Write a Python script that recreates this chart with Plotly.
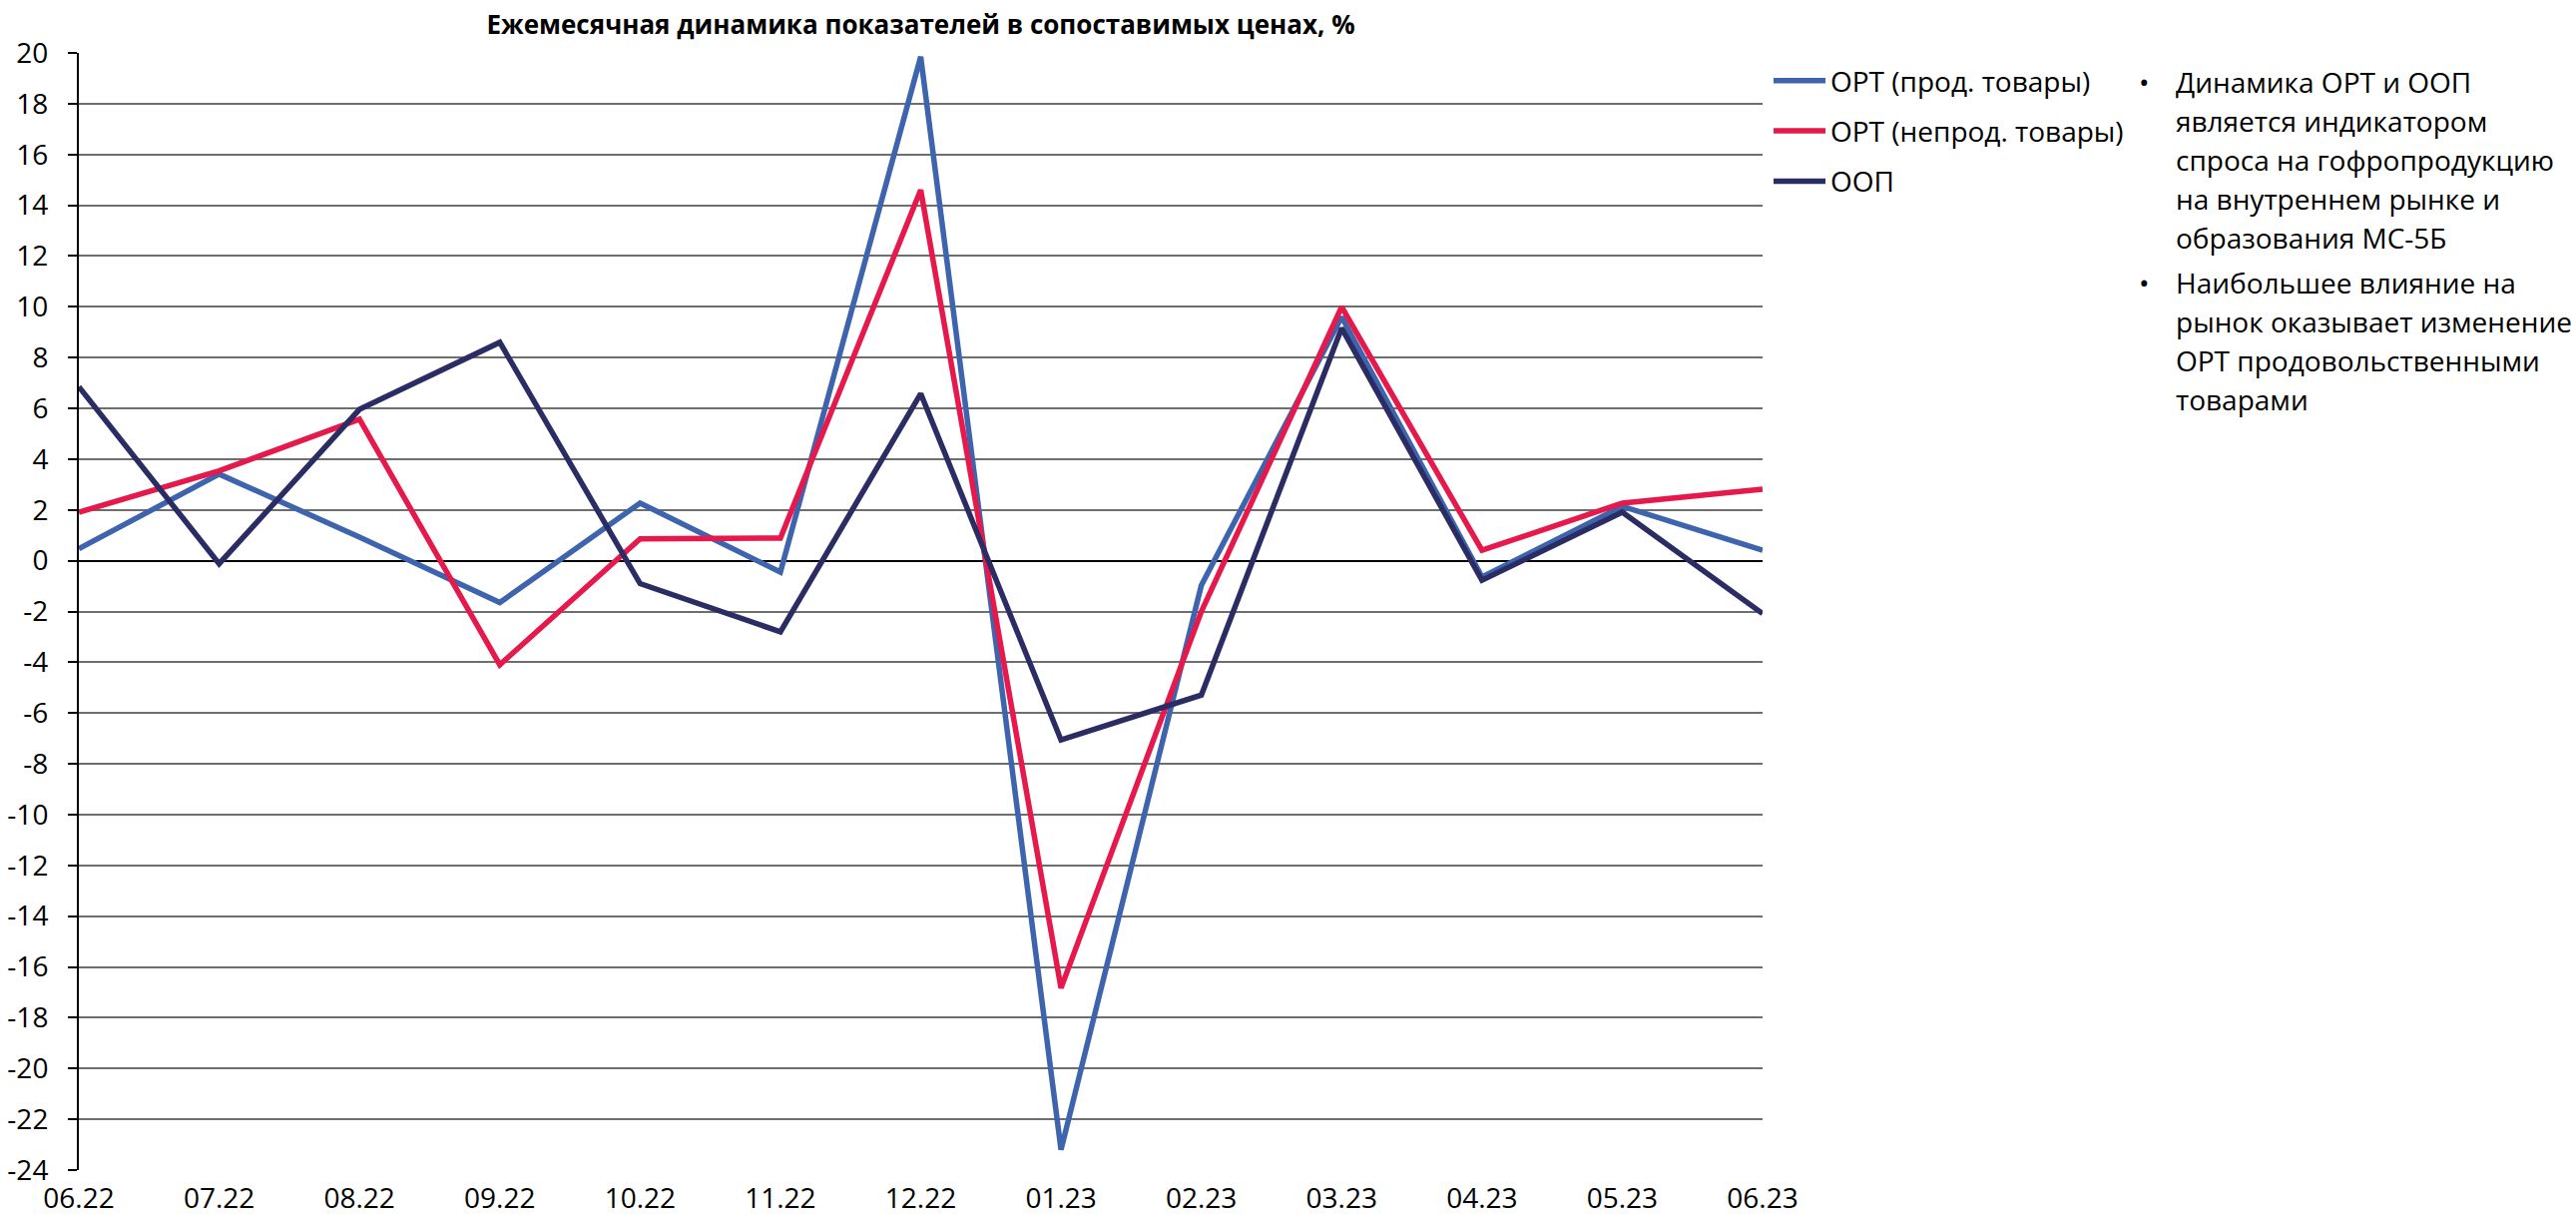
import plotly.graph_objects as go

# ---- data ----
months = ["06.22", "07.22", "08.22", "09.22", "10.22", "11.22", "12.22",
          "01.23", "02.23", "03.23", "04.23", "05.23", "06.23"]
ort_food = [0.47, 3.41, 0.93, -1.65, 2.27, -0.45, 19.85, -23.2, -0.97, 9.6, -0.64, 2.14, 0.41]
ort_nonfood = [1.91, 3.54, 5.57, -4.1, 0.86, 0.89, 14.6, -16.83, -2.0, 10.0, 0.41, 2.27, 2.82]
oop = [6.85, -0.12, 5.96, 8.6, -0.9, -2.8, 6.58, -7.06, -5.29, 9.16, -0.77, 1.91, -2.08]
series_names = ["ОРТ (прод. товары)", "ОРТ (непрод. товары)", "ООП"]
y_ticks = [-24, -22, -20, -18, -16, -14, -12, -10, -8, -6, -4, -2, 0,
           2, 4, 6, 8, 10, 12, 14, 16, 18, 20]
title_text = "Ежемесячная динамика показателей в сопоставимых ценах, %"
notes = [
    ["Динамика ОРТ и ООП", "является индикатором", "спроса на гофропродукцию",
     "на внутреннем рынке и", "образования МС-5Б"],
    ["Наибольшее влияние на", "рынок оказывает изменение",
     "ОРТ продовольственными", "товарами"],
]

colors = ["#3D64AC", "#E5194B", "#2A2C63"]
FONT = "Open Sans"
FS = 28

W, H = 2581, 1219
L, R, T, B = 79, 1766, 53, 1172   # plot area in pixels


def px_x(X):
    return (X - L) / (R - L)


def px_y(Y):
    return (B - Y) / (B - T)


fig = go.Figure()
for i, (name, vals) in enumerate(zip(series_names, [ort_food, ort_nonfood, oop])):
    fig.add_trace(go.Scatter(
        x=months, y=vals, mode="lines", name=name,
        line=dict(color=colors[i], width=5.5),
        legendgroup=f"g{i}",
    ))

fig.update_layout(
    width=W, height=H, autosize=False,
    margin=dict(l=L, r=W - R, t=T, b=H - B, pad=0, autoexpand=False),
    paper_bgcolor="white", plot_bgcolor="white",
    font=dict(family=FONT, size=FS, color="black"),
    title=dict(text=f"<b>{title_text}</b>", x=0.5, xref="paper",
               y=1 - 25 / H, yanchor="middle", automargin=False,
               font=dict(family=FONT, size=26, color="black")),
    showlegend=True,
    legend=dict(x=px_x(1772), y=px_y(56), xanchor="left", yanchor="top",
                xref="paper", yref="paper",
                font=dict(family=FONT, size=FS, color="black"),
                bgcolor="rgba(0,0,0,0)", borderwidth=0,
                traceorder="grouped", tracegroupgap=11, itemwidth=52),
)

fig.update_xaxes(
    type="category", range=[0, len(months) - 1], automargin=False,
    showgrid=False, zeroline=False, showline=False,
    ticks="", tickfont=dict(family=FONT, size=FS, color="black"),
    ticklabelstandoff=9,
)
fig.update_yaxes(
    range=[-24, 20], tickvals=y_ticks, ticktext=[str(v) for v in y_ticks],
    automargin=False,
    showgrid=True, gridcolor="#6e6e6e", gridwidth=1.8,
    zeroline=True, zerolinecolor="black", zerolinewidth=2,
    showline=True, linecolor="black", linewidth=2,
    ticks="outside", ticklen=9, tickwidth=2, tickcolor="black",
    tickfont=dict(family=FONT, size=FS, color="black"),
    ticklabelstandoff=14,
)

# right-hand notes
line_gap = 39
para_starts = [82, 283]
for para, y0 in zip(notes, para_starts):
    fig.add_annotation(text="•", x=px_x(2148), y=px_y(y0), xref="paper", yref="paper",
                       xanchor="center", yanchor="middle", showarrow=False,
                       font=dict(family=FONT, size=FS, color="black"))
    for k, line in enumerate(para):
        fig.add_annotation(text=line, x=px_x(2178), y=px_y(y0 + k * line_gap),
                           xref="paper", yref="paper",
                           xanchor="left", yanchor="middle", showarrow=False,
                           font=dict(family=FONT, size=FS, color="black"))

fig.write_html(
    "out.html",
    config={"displayModeBar": False},
    post_script="document.body.style.margin='0';document.body.style.overflow='hidden';",
)
